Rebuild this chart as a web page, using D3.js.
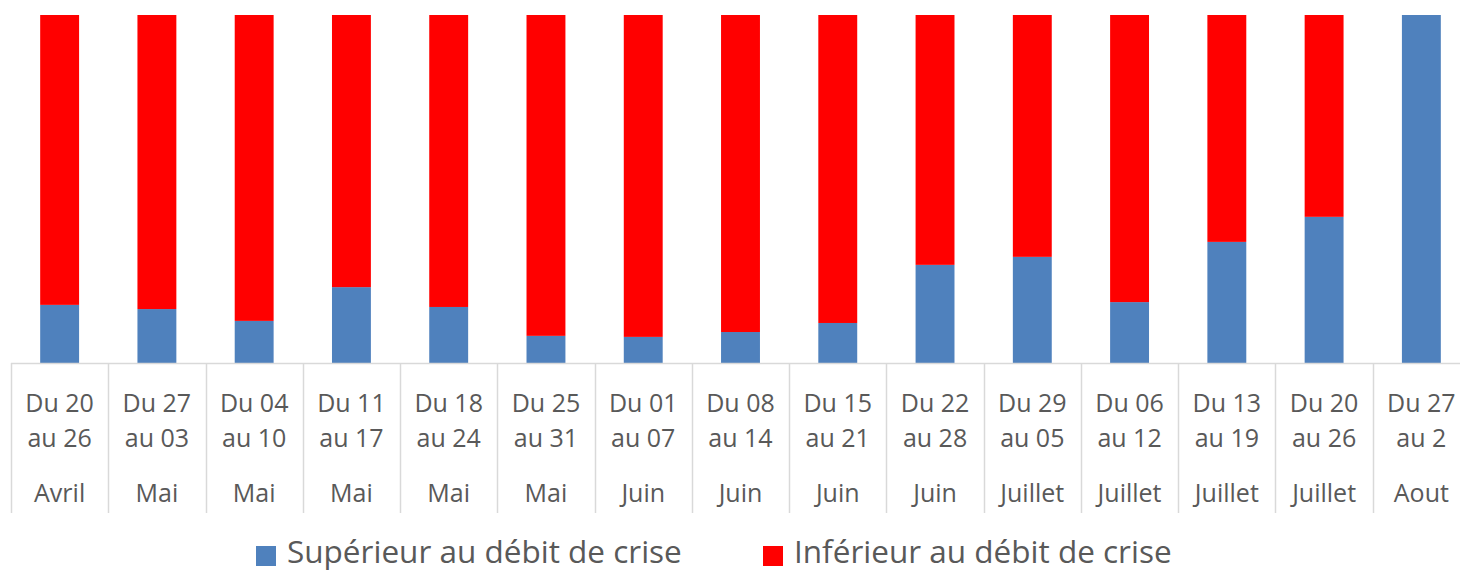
<!DOCTYPE html>
<html>
<head>
<meta charset="utf-8">
<script src="https://cdn.jsdelivr.net/npm/d3@7"></script>
<style>
  html, body { margin: 0; padding: 0; background: #fff; }
  svg { display: block; font-family: "Open Sans", sans-serif; }
</style>
</head>
<body>
<svg id="chart" width="1460" height="572"></svg>
<script>
// labels: line 1, line 2, month
const startLabels = ['Du 20', 'Du 27', 'Du 04', 'Du 11', 'Du 18', 'Du 25', 'Du 01', 'Du 08', 'Du 15', 'Du 22', 'Du 29', 'Du 06', 'Du 13', 'Du 20', 'Du 27'];
const endLabels = ['au 26', 'au 03', 'au 10', 'au 17', 'au 24', 'au 31', 'au 07', 'au 14', 'au 21', 'au 28', 'au 05', 'au 12', 'au 19', 'au 26', 'au 2'];
const months = ['Avril', 'Mai', 'Mai', 'Mai', 'Mai', 'Mai', 'Juin', 'Juin', 'Juin', 'Juin', 'Juillet', 'Juillet', 'Juillet', 'Juillet', 'Aout'];

// share (%) of days above the crisis flow, the rest is below
const superieur = [16.7, 15.5, 12.1, 21.8, 16.1, 7.8, 7.5, 8.9, 11.5, 28.2, 30.5, 17.5, 34.8, 42.0, 100];
const inferieur = superieur.map(v => 100 - v);

const seriesNames = ['Supérieur au débit de crise', 'Inférieur au débit de crise'];
const seriesColors = ['#4F81BD', '#FF0000'];

const svg = d3.select('#chart');
const plotTop = 15, plotBottom = 363;

const x = d3.scaleBand().domain(d3.range(startLabels.length)).range([11, 1470]).padding(0);
const y = d3.scaleLinear().domain([0, 100]).range([plotBottom, plotTop]);
const barW = x.bandwidth() * 0.4;

const rows = superieur.map((s, i) => ({ i, sup: s, inf: inferieur[i] }));
const stack = d3.stack().keys(['sup', 'inf'])(rows);

stack.forEach((layer, k) => {
  svg.append('g').selectAll('rect').data(layer).enter().append('rect')
    .attr('x', d => x(d.data.i) + (x.bandwidth() - barW) / 2)
    .attr('y', d => y(d[1]))
    .attr('width', barW)
    .attr('height', d => y(d[0]) - y(d[1]))
    .attr('fill', seriesColors[k]);
});

// category axis
const axisG = svg.append('g');
axisG.append('line')
  .attr('x1', 11).attr('x2', 1460).attr('y1', plotBottom + 0.5).attr('y2', plotBottom + 0.5)
  .attr('stroke', '#D9D9D9').attr('stroke-width', 1.5);

const seps = d3.range(startLabels.length + 1).map(i => i === startLabels.length ? x.range()[1] : x(i));
axisG.selectAll('line.sep').data(seps).enter().append('line')
  .attr('class', 'sep')
  .attr('x1', d => Math.round(d) + 0.5).attr('x2', d => Math.round(d) + 0.5)
  .attr('y1', plotBottom).attr('y2', 513)
  .attr('stroke', '#D9D9D9').attr('stroke-width', 1.5);

const labelRows = [[startLabels, 412], [endLabels, 447], [months, 502]];
labelRows.forEach(([arr, yy]) => {
  axisG.selectAll(null).data(arr).enter().append('text')
    .attr('x', (d, i) => x(i) + x.bandwidth() / 2)
    .attr('y', yy)
    .attr('text-anchor', 'middle')
    .attr('fill', '#595959')
    .attr('font-size', 25)
    .text(d => d);
});

// legend
const legendX = [256, 763];
const legend = svg.append('g');
seriesNames.forEach((name, k) => {
  legend.append('rect')
    .attr('x', legendX[k]).attr('y', 546)
    .attr('width', 20).attr('height', 20)
    .attr('fill', seriesColors[k]);
  legend.append('text')
    .attr('x', legendX[k] + 31).attr('y', 563)
    .attr('fill', '#595959')
    .attr('font-size', 31.5)
    .text(name);
});
</script>
</body>
</html>
